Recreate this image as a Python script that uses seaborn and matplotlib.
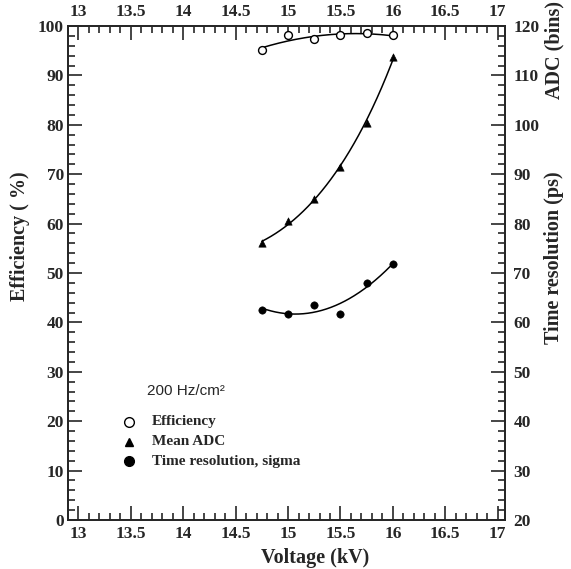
import numpy as np
import pandas as pd
import matplotlib
matplotlib.use('Agg')
import matplotlib.pyplot as plt
import seaborn as sns
from matplotlib.ticker import MultipleLocator
from matplotlib.lines import Line2D

# data
voltage = [14.75, 15.0, 15.25, 15.5, 15.75, 16.0]
efficiency = [95.1, 98.1, 97.4, 98.1, 98.5, 98.1]
mean_adc = [76.0, 80.5, 85.0, 91.5, 100.3, 113.7]
time_res = [62.6, 61.8, 63.6, 61.8, 67.9, 71.9]

legend_labels = ['Efficiency', 'Mean ADC', 'Time resolution, sigma']

sns.set_style('ticks')
plt.rcParams['font.family'] = ['Liberation Serif', 'DejaVu Serif']
plt.rcParams['font.weight'] = 'bold'
plt.rcParams['axes.linewidth'] = 1.3

W, H = 571, 569
fig = plt.figure(figsize=(W / 100, H / 100), dpi=100)
ax = fig.add_axes([68 / W, 1 - 520 / H, (505 - 68) / W, (520 - 26) / H])
ax2 = ax.twinx()

df = pd.DataFrame({'voltage': voltage, 'efficiency': efficiency,
                   'adc': mean_adc, 'time': time_res})

# smooth fits through the points
xs = np.linspace(min(voltage), max(voltage), 200)
fit = pd.DataFrame({'voltage': xs})
fit['efficiency'] = np.polyval(np.polyfit(voltage, efficiency, 2), xs)
fit['adc'] = np.exp(np.polyval(np.polyfit(voltage, np.log(mean_adc), 2), xs))
fit['time'] = np.polyval(np.polyfit(voltage, time_res, 2), xs)

sns.lineplot(data=fit, x='voltage', y='efficiency', ax=ax, color='black', lw=1.1)
sns.scatterplot(data=df, x='voltage', y='efficiency', ax=ax, marker='o', s=32,
                facecolor='white', edgecolor='black', linewidth=1.0, zorder=3)

sns.lineplot(data=fit, x='voltage', y='adc', ax=ax2, color='black', lw=1.1)
sns.scatterplot(data=df, x='voltage', y='adc', ax=ax2, marker='^', s=28,
                color='black', edgecolor='black', zorder=3)
sns.lineplot(data=fit, x='voltage', y='time', ax=ax2, color='black', lw=1.1)
sns.scatterplot(data=df, x='voltage', y='time', ax=ax2, marker='o', s=28,
                color='black', edgecolor='black', zorder=3)

ax.set_xlim(12.9, 17.07)
ax.set_ylim(0, 100)
ax2.set_ylim(20, 120)

ax.xaxis.set_major_locator(MultipleLocator(0.5))
ax.xaxis.set_minor_locator(MultipleLocator(0.1))
ax.yaxis.set_major_locator(MultipleLocator(10))
ax.yaxis.set_minor_locator(MultipleLocator(2))
ax2.yaxis.set_major_locator(MultipleLocator(10))
ax2.yaxis.set_minor_locator(MultipleLocator(2))

ax.xaxis.set_major_formatter(plt.FuncFormatter(lambda v, p: f'{v:g}'))
ax.tick_params(axis='both', which='both', direction='in', top=True,
               labeltop=True, labelsize=12.5, width=1.2)
ax.tick_params(which='major', length=10)
ax.tick_params(which='minor', length=5)
ax.tick_params(axis='x', pad=4)
ax.tick_params(axis='y', pad=3)
ax2.tick_params(axis='y', which='both', direction='in', labelsize=12.5,
                width=1.2, pad=6)
ax2.tick_params(which='major', length=10)
ax2.tick_params(which='minor', length=5)
for a in (ax, ax2):
    for lab in a.get_xticklabels() + a.get_yticklabels():
        lab.set_fontweight('bold')

ax.set_xlabel('')
ax.set_ylabel('')
ax2.set_ylabel('')
fig.text(315 / W, 1 - 558 / H, 'Voltage (kV)', ha='center', va='center',
         fontsize=14.5, fontweight='bold')
fig.text(20 / W, 1 - 236 / H, 'Efficiency ( %)', rotation=90, ha='center',
         va='center', fontsize=14.5, fontweight='bold')
fig.text(554 / W, 1 - 50 / H, 'ADC (bins)', rotation=90, ha='center',
         va='center', fontsize=14.5, fontweight='bold')
fig.text(554 / W, 1 - 258 / H, 'Time resolution (ps)', rotation=90, ha='center',
         va='center', fontsize=14.5, fontweight='bold')

# legend block
fig.text(147 / W, 1 - 391 / H, '200 Hz/cm²', ha='left', va='center',
         fontsize=11, fontweight='normal', family='Liberation Sans')
styles = [dict(marker='o', mfc='white', mec='black', ms=7),
          dict(marker='^', mfc='black', mec='black', ms=6),
          dict(marker='o', mfc='black', mec='black', ms=7)]
for i, (label, st) in enumerate(zip(legend_labels, styles)):
    y = 1 - (422 + i * 19.5) / H
    fig.add_artist(Line2D([129 / W], [y], transform=fig.transFigure, ls='none', **st))
    fig.text(152 / W, y, label, ha='left', va='center', fontsize=11,
             fontweight='bold')

fig.savefig('out.png', dpi=100)
